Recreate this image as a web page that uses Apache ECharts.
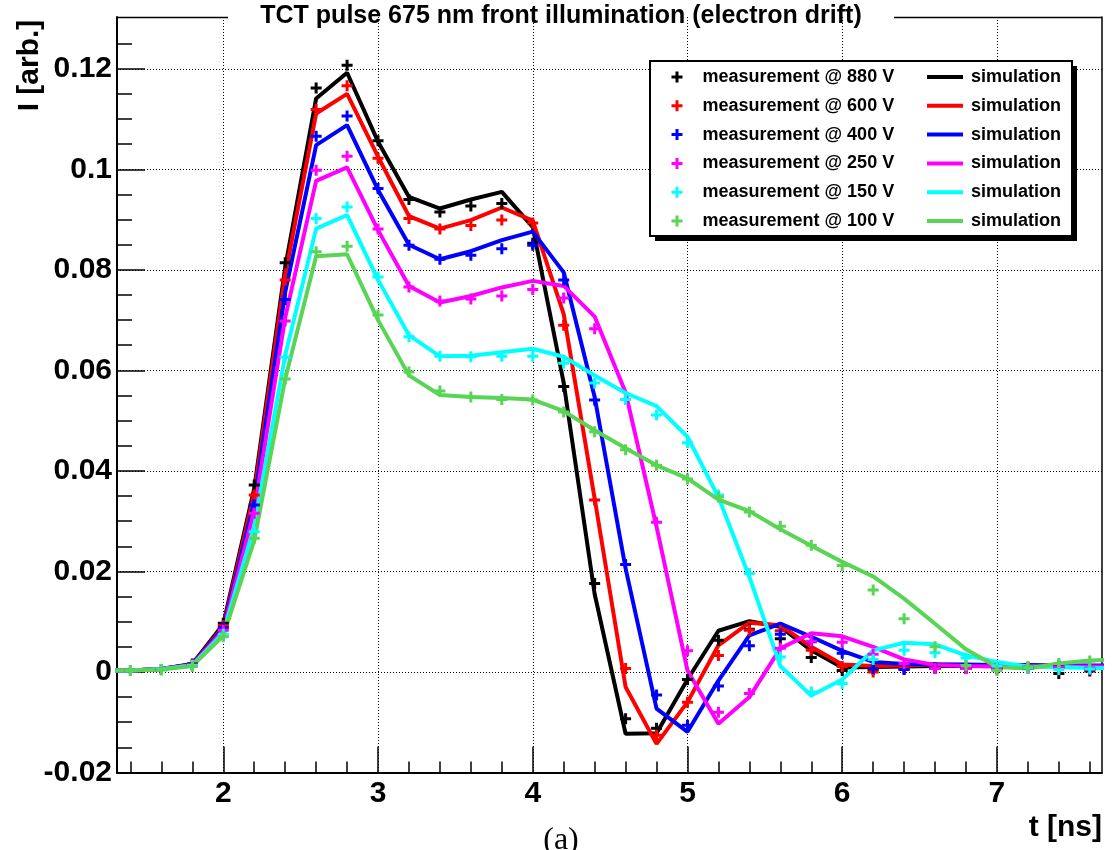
<!DOCTYPE html>
<html><head><meta charset="utf-8">
<script src="https://cdn.jsdelivr.net/npm/echarts@6/dist/echarts.min.js"></script>
<style>html,body{margin:0;padding:0;background:#fff}#c{width:1112px;height:850px}</style>
</head><body><div id="c"></div>
<script>
// ---- data ----
const simT  = [1.2,1.4,1.6,1.8,2.0,2.2,2.4,2.6,2.8,3.0,3.2,3.4,3.6,3.8,4.0,4.2,4.4,4.6,4.8,5.0,5.2,5.4,5.6,5.8,6.0,6.2,6.4,6.6,6.8,7.0,7.2,7.4,7.6,7.8];
const measT = [1.4,1.6,1.8,2.0,2.2,2.4,2.6,2.8,3.0,3.2,3.4,3.6,3.8,4.0,4.2,4.4,4.6,4.8,5.0,5.2,5.4,5.6,5.8,6.0,6.2,6.4,6.6,6.8,7.0,7.2,7.4,7.6];

const sim880 = [0.0003,0.0003,0.0006,0.0016,0.0095,0.0365,0.0805,0.1141,0.1192,0.1055,0.0945,0.0922,0.0940,0.0955,0.0885,0.0575,0.0155,-0.0123,-0.0122,-0.0015,0.0082,0.0101,0.0090,0.0043,0.0009,0.0010,0.0011,0.0012,0.0012,0.0012,0.0012,0.0012,0.0012,0.0012];
const sim600 = [0.0003,0.0003,0.0006,0.0015,0.0090,0.0355,0.0790,0.1111,0.1150,0.1025,0.0907,0.0882,0.0899,0.0924,0.0898,0.0712,0.0345,-0.0030,-0.0143,-0.0060,0.0053,0.0098,0.0093,0.0050,0.0015,0.0012,0.0013,0.0015,0.0014,0.0013,0.0013,0.0012,0.0012,0.0012];
const sim400 = [0.0003,0.0003,0.0006,0.0015,0.0087,0.0338,0.0755,0.1048,0.1088,0.0959,0.0850,0.0821,0.0837,0.0859,0.0876,0.0795,0.0547,0.0206,-0.0073,-0.0119,-0.0017,0.0073,0.0096,0.0070,0.0042,0.0020,0.0016,0.0015,0.0015,0.0014,0.0014,0.0013,0.0013,0.0013];
const sim250 = [0.0003,0.0003,0.0006,0.0014,0.0083,0.0320,0.0705,0.0977,0.1004,0.0879,0.0768,0.0735,0.0748,0.0765,0.0778,0.0768,0.0707,0.0556,0.0289,0.0003,-0.0103,-0.0050,0.0047,0.0077,0.0071,0.0050,0.0025,0.0014,0.0012,0.0011,0.0011,0.0011,0.0011,0.0011];
const sim150 = [0.0003,0.0003,0.0006,0.0013,0.0078,0.0290,0.0630,0.0882,0.0909,0.0780,0.0670,0.0628,0.0629,0.0636,0.0643,0.0627,0.0590,0.0555,0.0529,0.0468,0.0348,0.0189,0.0012,-0.0047,-0.0015,0.0043,0.0058,0.0055,0.0033,0.0020,0.0011,0.0010,0.0008,0.0008];
const sim100 = [0.0003,0.0003,0.0005,0.0012,0.0072,0.0262,0.0583,0.0827,0.0831,0.0700,0.0590,0.0551,0.0547,0.0545,0.0542,0.0519,0.0481,0.0445,0.0411,0.0385,0.0343,0.0320,0.0284,0.0251,0.0219,0.0190,0.0146,0.0096,0.0045,0.0010,0.0007,0.0017,0.0023,0.0025];

const meas880 = [0.0003,0.0005,0.0016,0.0097,0.0372,0.0814,0.1162,0.1207,0.1057,0.0940,0.0915,0.0927,0.0932,0.0853,0.0568,0.0176,-0.0093,-0.0112,-0.0015,0.0063,0.0085,0.0066,0.0029,0.0003,0.0005,0.0006,0.0008,0.0007,0.0006,0.0008,-0.0003,0.0002];
const meas600 = [0.0003,0.0005,0.0015,0.0092,0.0352,0.0780,0.1119,0.1166,0.1022,0.0902,0.0881,0.0888,0.0899,0.0893,0.0690,0.0342,0.0007,-0.0126,-0.0060,0.0033,0.0083,0.0082,0.0043,0.0011,0.0000,0.0007,0.0009,0.0008,0.0008,0.0010,0.0009,0.0004];
const meas400 = [0.0003,0.0005,0.0014,0.0088,0.0332,0.0741,0.1066,0.1106,0.0962,0.0849,0.0821,0.0829,0.0842,0.0849,0.0780,0.0541,0.0214,-0.0046,-0.0106,-0.0028,0.0052,0.0075,0.0060,0.0037,0.0007,0.0005,0.0008,0.0010,0.0008,0.0009,0.0012,0.0006];
const meas250 = [0.0003,0.0005,0.0014,0.0083,0.0316,0.0698,0.0998,0.1026,0.0881,0.0766,0.0738,0.0742,0.0748,0.0761,0.0744,0.0683,0.0542,0.0298,0.0042,-0.0080,-0.0043,0.0047,0.0061,0.0059,0.0035,0.0017,0.0007,0.0007,0.0008,0.0009,0.0010,0.0008];
const meas150 = [0.0003,0.0005,0.0013,0.0075,0.0279,0.0626,0.0902,0.0925,0.0786,0.0667,0.0628,0.0627,0.0628,0.0628,0.0614,0.0575,0.0542,0.0511,0.0456,0.0352,0.0196,0.0030,-0.0040,-0.0023,0.0025,0.0043,0.0038,0.0028,0.0012,0.0008,0.0005,0.0006];
const meas100 = [0.0003,0.0004,0.0011,0.0070,0.0266,0.0583,0.0836,0.0847,0.0710,0.0597,0.0559,0.0547,0.0542,0.0541,0.0517,0.0478,0.0442,0.0411,0.0384,0.0348,0.0318,0.0290,0.0252,0.0212,0.0163,0.0106,0.0050,0.0013,0.0003,0.0010,0.0017,0.0022];

const voltages = ['880','600','400','250','150','100'];
const simSets  = [sim880, sim600, sim400, sim250, sim150, sim100];
const measSets = [meas880, meas600, meas400, meas250, meas150, meas100];

const xMajorTicks = [2,3,4,5,6,7];
const xMinorTicks = [1.4,1.6,1.8,2.2,2.4,2.6,2.8,3.2,3.4,3.6,3.8,4.2,4.4,4.6,4.8,5.2,5.4,5.6,5.8,6.2,6.4,6.6,6.8,7.2,7.4,7.6];
const yMajorTicks = [-0.02,0,0.02,0.04,0.06,0.08,0.1,0.12];
const yMinorTicks = [-0.015,-0.01,-0.005,0.005,0.01,0.015,0.025,0.03,0.035,0.045,0.05,0.055,0.065,0.07,0.075,0.085,0.09,0.095,0.105,0.11,0.115,0.125];

const titleText = 'TCT pulse 675 nm front illumination (electron drift)';
const xTitle = 't [ns]';
const yTitle = 'I [arb.]';

// ---- style ----
const X_MIN = 1.313, X_MAX = 7.679, Y_MIN = -0.02, Y_MAX = 0.1303;
const colors = ['#000000','#ff0000','#0000ff','#ff00ff','#00ffff','#59d454'];
const FONT = 'Liberation Sans';
const plusPath = 'path://M4,0h3v4h4v3h-4v4h-3v-4h-4v-3h4z';

const series = [];
voltages.forEach((v, i) => {
  series.push({
    name: 'sim' + v, type: 'line', xAxisIndex: 0, yAxisIndex: 0,
    data: simT.map((t, k) => [t, simSets[i][k]]),
    showSymbol: false, symbol: 'none', smooth: false, clip: true,
    lineStyle: {color: colors[i], width: 4}, itemStyle: {color: colors[i]},
    z: 2
  });
  series.push({
    name: 'measurement @ ' + v + ' V', type: 'scatter', xAxisIndex: 0, yAxisIndex: 0,
    data: measT.map((t, k) => [t, measSets[i][k]]),
    symbol: plusPath, symbolSize: 11, clip: true,
    itemStyle: {color: colors[i], opacity: 1}, z: 3
  });
});

const gridLine = {show: true, lineStyle: {color: '#000', width: 1, type: [1, 2]}};
const chart = echarts.init(document.getElementById('c'), null, {renderer: 'canvas'});
chart.setOption({
  animation: false,
  backgroundColor: '#fff',
  grid: {left: 117, right: 10, top: 17, bottom: 77.5, containLabel: false},
  xAxis: [
    {type: 'value', min: X_MIN, max: X_MAX, position: 'bottom', splitNumber: 6,
     axisLine: {show: true, onZero: false, lineStyle: {color: '#000', width: 2}},
     axisTick: {show: true, inside: true, length: 26, customValues: xMajorTicks, lineStyle: {color: '#000', width: 1.5}},
     axisLabel: {show: true, customValues: xMajorTicks, color: '#000', fontSize: 30, fontWeight: 'bold', fontFamily: FONT, margin: 6},
     splitLine: gridLine},
    {type: 'value', min: X_MIN, max: X_MAX, position: 'bottom',
     axisLine: {show: false, onZero: false},
     axisTick: {show: true, inside: true, length: 11, customValues: xMinorTicks, lineStyle: {color: '#000', width: 1.5}},
     axisLabel: {show: false}, splitLine: {show: false}}
  ],
  yAxis: [
    {type: 'value', min: Y_MIN, max: Y_MAX, interval: 0.02, position: 'left',
     axisLine: {show: true, onZero: false, lineStyle: {color: '#000', width: 2}},
     axisTick: {show: true, inside: true, length: 28, customValues: yMajorTicks, lineStyle: {color: '#000', width: 1.5}},
     axisLabel: {show: true, customValues: yMajorTicks, color: '#000', fontSize: 30, fontWeight: 'bold', fontFamily: FONT, margin: 5},
     splitLine: gridLine},
    {type: 'value', min: Y_MIN, max: Y_MAX, position: 'left',
     axisLine: {show: false, onZero: false},
     axisTick: {show: true, inside: true, length: 15, customValues: yMinorTicks, lineStyle: {color: '#000', width: 1.5}},
     axisLabel: {show: false}, splitLine: {show: false}},
    {type: 'value', min: Y_MIN, max: Y_MAX, position: 'right',
     axisLine: {show: true, onZero: false, lineStyle: {color: '#000', width: 1.5}},
     axisTick: {show: false}, axisLabel: {show: false}, splitLine: {show: false}}
  ],
  legend: [
    {orient: 'vertical', left: 671.5, top: 67, padding: 0, itemWidth: 11, itemHeight: 11, itemGap: 8.8,
     selectedMode: false, z: 20,
     data: voltages.map(v => ({name: 'measurement @ ' + v + ' V', icon: plusPath})),
     textStyle: {color: '#000', fontSize: 18, fontWeight: 'bold', fontFamily: FONT, lineHeight: 20, padding: [0, 0, 0, 15]}},
    {orient: 'vertical', left: 927, top: 67, padding: 0, itemWidth: 36, itemHeight: 4, itemGap: 8.8,
     selectedMode: false, z: 20,
     data: voltages.map(v => ({name: 'sim' + v, icon: 'rect'})),
     formatter: () => 'simulation',
     textStyle: {color: '#000', fontSize: 18, fontWeight: 'bold', fontFamily: FONT, lineHeight: 20, padding: [0, 0, 0, 3]}}
  ],
  graphic: [
    {type: 'line', z: 5, shape: {x1: 117, y1: 17.5, x2: 228, y2: 17.5}, style: {stroke: '#000', lineWidth: 1.5}},
    {type: 'line', z: 5, shape: {x1: 894, y1: 17.5, x2: 1102, y2: 17.5}, style: {stroke: '#000', lineWidth: 1.5}},
    {type: 'text', z: 5, style: {text: titleText, x: 561, y: 16, textAlign: 'center', textVerticalAlign: 'middle', font: 'bold 25px "Liberation Sans"', fill: '#000'}},
    {type: 'rect', z: 10, shape: {x: 655, y: 66, width: 422, height: 175}, style: {fill: '#000'}},
    {type: 'rect', z: 11, shape: {x: 650, y: 61, width: 422, height: 175}, style: {fill: '#fff', stroke: '#000', lineWidth: 2}},
    {type: 'text', z: 5, rotation: Math.PI / 2, x: 30, y: 65.5, style: {text: yTitle, x: 0, y: 0, textAlign: 'center', textVerticalAlign: 'middle', font: 'bold 30px "Liberation Sans"', fill: '#000'}},
    {type: 'text', z: 5, style: {text: xTitle, x: 1102, y: 828, textAlign: 'right', textVerticalAlign: 'middle', font: 'bold 30px "Liberation Sans"', fill: '#000'}},
    {type: 'text', z: 5, style: {text: '(a)', x: 561, y: 841, textAlign: 'center', textVerticalAlign: 'middle', font: '32px "Liberation Serif"', fill: '#000'}}
  ],
  series: series
});
</script></body></html>
